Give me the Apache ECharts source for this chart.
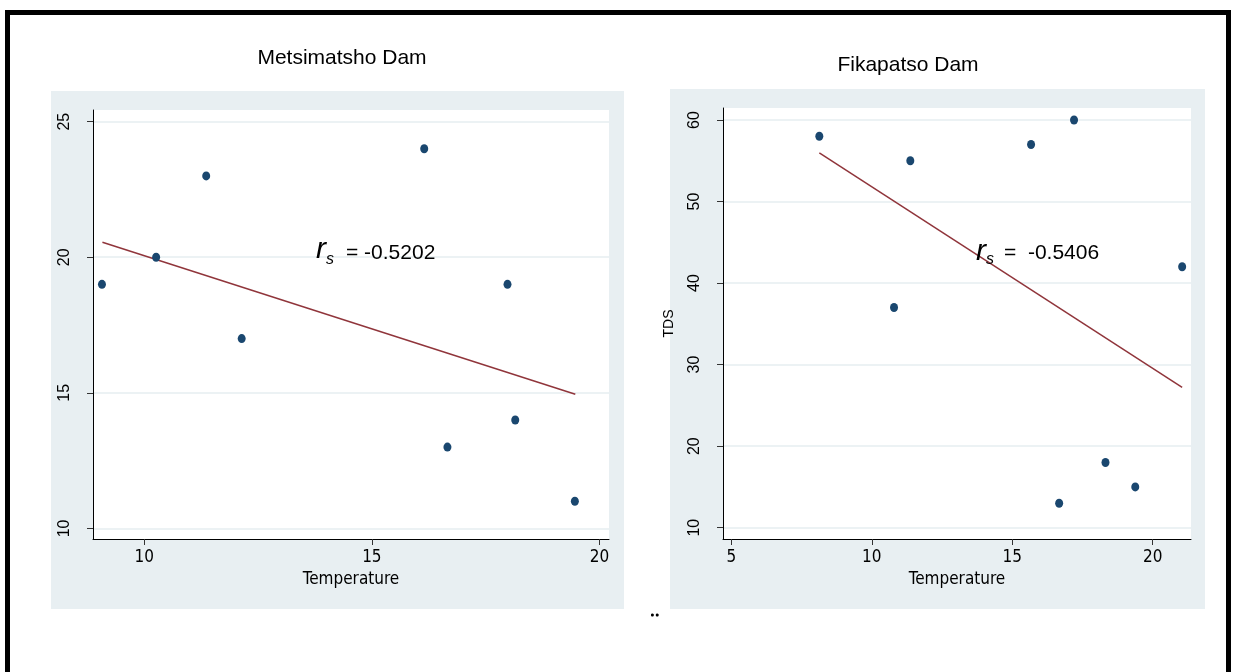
<!DOCTYPE html>
<html><head><meta charset="utf-8">
<script src="https://cdn.jsdelivr.net/npm/echarts@6/dist/echarts.min.js"></script>
<style>html,body{margin:0;padding:0;background:#fff}#c{width:1236px;height:672px}</style>
</head><body><div id="c"></div>
<script>
// Metsimatsho Dam
const metTemp = [9.07, 10.26, 11.36, 12.14, 16.15, 16.66, 17.98, 18.15, 19.46];
const metVal  = [19, 20, 23, 17, 24, 13, 19, 14, 11];
const metFitX = [9.08, 19.47];
const metFitY = [20.55, 14.95];
const metXTicks = [10, 15, 20];
const metYTicks = [10, 15, 20, 25];
const metRs = '= -0.5202';
// Fikapatso Dam
const fikTemp = [8.13, 10.79, 11.37, 15.67, 16.67, 17.2, 18.32, 19.38, 21.05];
const fikTDS  = [58, 37, 55, 57, 13, 60, 18, 15, 42];
const fikFitX = [8.13, 21.05];
const fikFitY = [55.96, 27.2];
const fikXTicks = [5, 10, 15, 20];
const fikYTicks = [10, 20, 30, 40, 50, 60];
const fikRs = '=  -0.5406';
const titles = ['Metsimatsho Dam', 'Fikapatso Dam'];
const xName = 'Temperature';
const yName2 = 'TDS';

const BG = '#e8eff2', GRIDC = '#e6eef1', DOT = '#1a476f', FIT = '#90353b';
const NARROW = "'Liberation Sans Narrow','Arial Narrow','DejaVu Sans Condensed','Liberation Sans',sans-serif";
const SANS = "'Liberation Sans',Arial,sans-serif";

function xAxis(idx, min, max, ticks) {
  return {
    type: 'value', gridIndex: idx, min: min, max: max,
    name: xName, nameLocation: 'middle', nameGap: 31,
    nameTextStyle: {fontFamily: NARROW, fontSize: 17, color: '#000'},
    axisLine: {show: true, onZero: false, lineStyle: {color: '#000', width: 1}},
    axisTick: {show: true, length: 6, customValues: ticks, lineStyle: {color: '#333'}},
    axisLabel: {customValues: ticks, margin: 10, fontFamily: NARROW, fontSize: 17, color: '#000'},
    splitLine: {show: false}
  };
}
function yAxis(idx, min, max, ticks, name) {
  return {
    type: 'value', gridIndex: idx, min: min, max: max,
    name: name || '', nameLocation: 'middle', nameGap: 47, nameRotate: 90,
    nameTextStyle: {fontFamily: SANS, fontSize: 14, color: '#000'},
    axisLine: {show: true, onZero: false, lineStyle: {color: '#000', width: 1}},
    axisTick: {show: true, length: 6, customValues: ticks, lineStyle: {color: '#333'}},
    axisLabel: {customValues: ticks, rotate: 90, margin: 20, fontFamily: SANS, fontSize: 16, color: '#000'},
    splitLine: {show: true, lineStyle: {color: GRIDC, width: 1.5}}
  };
}
function pairs(a, b) { return a.map((v, i) => [v, b[i]]); }

const chart = echarts.init(document.getElementById('c'), null, {renderer: 'canvas'});
chart.setOption({
  animation: false,
  backgroundColor: '#fff',
  grid: [
    {left: 93, top: 110, width: 516, height: 429, show: true, backgroundColor: '#fff', borderWidth: 0, outerBoundsMode: 'none', containLabel: false},
    {left: 723, top: 108, width: 468, height: 431, show: true, backgroundColor: '#fff', borderWidth: 0, outerBoundsMode: 'none', containLabel: false}
  ],
  xAxis: [xAxis(0, 8.873, 20.21, metXTicks), xAxis(1, 4.70, 21.365, fikXTicks)],
  yAxis: [yAxis(0, 9.61, 25.43, metYTicks), yAxis(1, 8.614, 61.47, fikYTicks, yName2)],
  series: [
    {type: 'line', xAxisIndex: 0, yAxisIndex: 0, data: pairs(metFitX, metFitY), symbol: 'none', lineStyle: {color: FIT, width: 1.5}, z: 2},
    {type: 'scatter', xAxisIndex: 0, yAxisIndex: 0, data: pairs(metTemp, metVal), symbol: 'circle', symbolSize: [8, 9], itemStyle: {color: DOT, opacity: 1}, z: 3},
    {type: 'line', xAxisIndex: 1, yAxisIndex: 1, data: pairs(fikFitX, fikFitY), symbol: 'none', lineStyle: {color: FIT, width: 1.5}, z: 2},
    {type: 'scatter', xAxisIndex: 1, yAxisIndex: 1, data: pairs(fikTemp, fikTDS), symbol: 'circle', symbolSize: [8, 9], itemStyle: {color: DOT, opacity: 1}, z: 3}
  ],
  graphic: [
    {type: 'rect', z: -10, shape: {x: 51, y: 91, width: 573, height: 518}, style: {fill: BG}},
    {type: 'rect', z: -10, shape: {x: 670, y: 89, width: 535, height: 520}, style: {fill: BG}},
    {type: 'rect', z: 10, shape: {x: 7.5, y: 12.5, width: 1221, height: 700}, style: {fill: 'none', stroke: '#000', lineWidth: 5}},
    {type: 'text', z: 10, x: 342, y: 58, style: {text: titles[0], font: "21px " + SANS, fill: '#000', textAlign: 'center', textVerticalAlign: 'middle'}},
    {type: 'text', z: 10, x: 908, y: 65, style: {text: titles[1], font: "21px " + SANS, fill: '#000', textAlign: 'center', textVerticalAlign: 'middle'}},
    {type: 'text', z: 10, x: 316, y: 250, style: {text: 'r', font: "italic 30px " + SANS, fill: '#000', textAlign: 'left', textVerticalAlign: 'middle'}},
    {type: 'text', z: 10, x: 326, y: 260, style: {text: 's', font: "italic 16px " + SANS, fill: '#000', textAlign: 'left', textVerticalAlign: 'middle'}},
    {type: 'text', z: 10, x: 346, y: 253, style: {text: metRs, font: "21px " + SANS, fill: '#000', textAlign: 'left', textVerticalAlign: 'middle'}},
    {type: 'text', z: 10, x: 976, y: 252, style: {text: 'r', font: "italic 30px " + SANS, fill: '#000', textAlign: 'left', textVerticalAlign: 'middle'}},
    {type: 'text', z: 10, x: 986, y: 260, style: {text: 's', font: "italic 16px " + SANS, fill: '#000', textAlign: 'left', textVerticalAlign: 'middle'}},
    {type: 'text', z: 10, x: 1004, y: 253, style: {text: fikRs, font: "21px " + SANS, fill: '#000', textAlign: 'left', textVerticalAlign: 'middle'}},
    {type: 'text', z: 10, x: 655, y: 611, style: {text: '‥', font: "bold 18px " + SANS, fill: '#000', textAlign: 'center', textVerticalAlign: 'middle'}}
  ]
});
</script></body></html>
